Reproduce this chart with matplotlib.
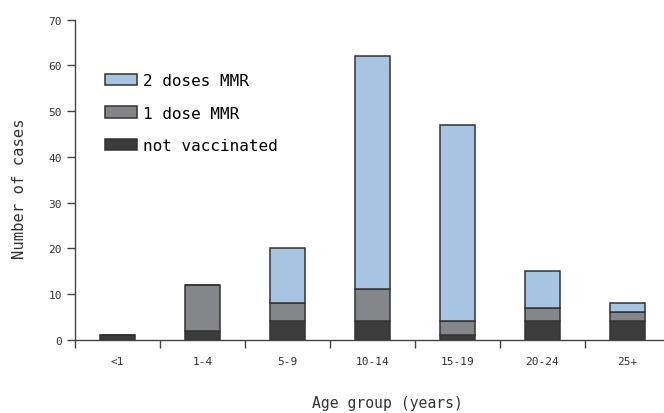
import numpy as np
import matplotlib
matplotlib.use("Agg")
import matplotlib.pyplot as plt

# datos
grupos = ["<1", "1-4", "5-9", "10-14", "15-19", "20-24", "25+"]
no_vacunados = [1, 2, 4, 4, 1, 4, 4]
una_dosis = [0, 10, 4, 7, 3, 3, 2]
dos_dosis = [0, 0, 12, 51, 43, 8, 2]

plt.rcParams["font.family"] = ["DejaVu Sans Mono"]

fig = plt.figure(figsize=(6.64, 4.14), dpi=100)
ax = fig.add_axes([75 / 664, 1 - 340.7 / 414, 595 / 664, 320 / 414])

x = np.arange(len(grupos))
ancho = 0.42
borde = dict(edgecolor="#333333", linewidth=1.1)

base1 = np.array(no_vacunados)
base2 = base1 + np.array(una_dosis)
ax.bar(x, no_vacunados, ancho, color="#3c3c3c", label="not vaccinated", **borde)
ax.bar(x, una_dosis, ancho, bottom=base1, color="#858689", label="1 dose MMR", **borde)
ax.bar(x, dos_dosis, ancho, bottom=base2, color="#a7c4e2", label="2 doses MMR", **borde)

ax.set_xlim(-0.5, len(grupos) - 0.5)
ax.set_ylim(0, 70)
ax.set_yticks(range(0, 71, 10))
ax.set_xticks(x)
ax.set_xticklabels(grupos)
ax.set_xticks(np.arange(-0.5, len(grupos) - 0.5, 1), minor=True)
ax.tick_params(axis="x", which="major", length=0, labelsize=8, pad=12, colors="#333333")
ax.tick_params(axis="x", which="minor", length=6, width=1, color="#444444")
ax.tick_params(axis="y", length=6, width=1, labelsize=8, color="#444444", labelcolor="#333333")

for lado in ["top", "right"]:
    ax.spines[lado].set_visible(False)
for lado in ["left", "bottom"]:
    ax.spines[lado].set_color("#444444")
    ax.spines[lado].set_linewidth(1)

ax.set_ylabel("Number of cases", fontsize=11.2, color="#333333")
ax.yaxis.set_label_coords((27 - 75) / 595, (340.7 - 189) / 320)
fig.text(387 / 664, 1 - 404 / 414, "Age group (years)", fontsize=10.6,
         color="#333333", ha="center", va="center")

handles, labels = ax.get_legend_handles_labels()
ax.legend(handles[::-1], labels[::-1], loc="upper left", frameon=False,
          bbox_to_anchor=(99 / 664, 1 - 68 / 414), bbox_transform=fig.transFigure,
          fontsize=11.5, handlelength=2.0, handleheight=0.7, handletextpad=0.35,
          labelspacing=1.08, borderaxespad=0)

fig.savefig("out.png", dpi=100)
